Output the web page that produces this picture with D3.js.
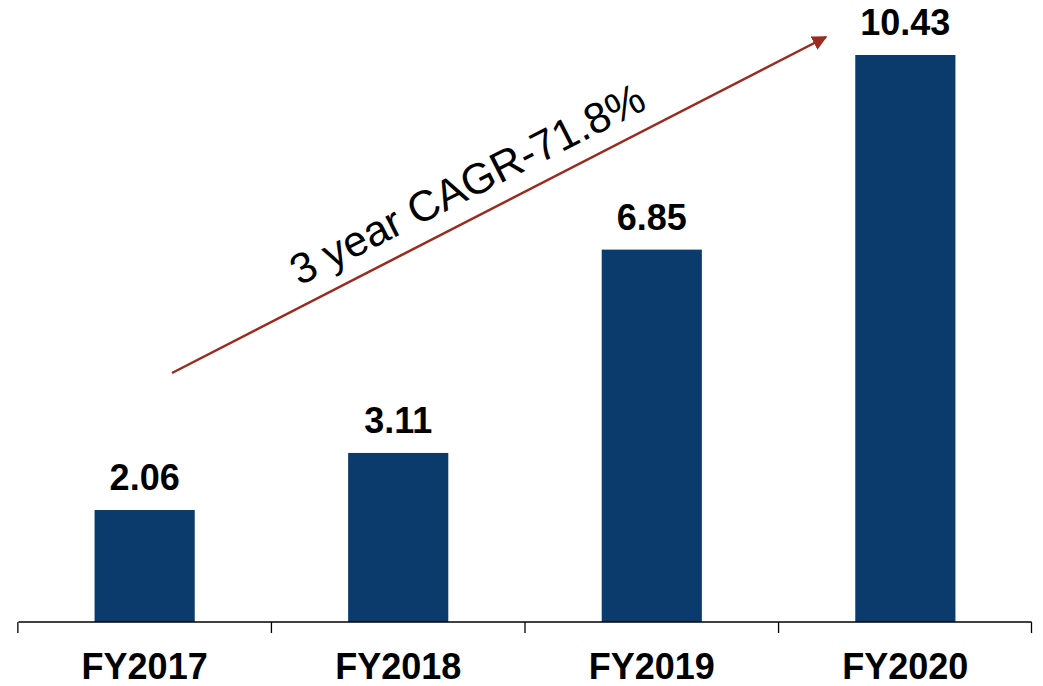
<!DOCTYPE html>
<html>
<head>
<meta charset="utf-8">
<script src="https://cdn.jsdelivr.net/npm/d3@7"></script>
<style>
  body { margin: 0; background: #fff; }
  text { font-family: "Liberation Sans", Arial, sans-serif; }
</style>
</head>
<body>
<script>
let w = 1043;
let h = 686;

// data
let years = ["FY2017", "FY2018", "FY2019", "FY2020"];
let values = [2.06, 3.11, 6.85, 10.43];
let cagrLabel = "3 year CAGR-71.8%";

let x = d3.scaleBand()
          .domain(years)
          .range([18.5, 1031.5])
          .paddingInner(0.605)
          .paddingOuter(0.3);

let y = d3.scaleLinear()
          .domain([0, 10.43])
          .range([622, 55]);

let svg = d3.select("body")
            .append("svg")
            .attr("width", w)
            .attr("height", h);

// bars
svg.selectAll("rect.bar")
   .data(years)
   .enter()
   .append("rect")
   .attr("class", "bar")
   .attr("x", d => x(d))
   .attr("y", (d, i) => y(values[i]))
   .attr("width", x.bandwidth())
   .attr("height", (d, i) => y(0) - y(values[i]))
   .attr("fill", "#0a3b6c");

// value labels
svg.selectAll("text.val")
   .data(years)
   .enter()
   .append("text")
   .attr("class", "val")
   .attr("x", d => x(d) + x.bandwidth() / 2)
   .attr("y", (d, i) => y(values[i]) - 20)
   .attr("text-anchor", "middle")
   .attr("font-size", 36)
   .attr("font-weight", "bold")
   .attr("fill", "#000")
   .text((d, i) => values[i].toFixed(2));

// x axis: ticks at the band edges
let edges = years.map(d => x(d) - x.step() * x.paddingInner() / 2)
                 .concat([x.range()[1]]);
let axis = svg.append("g");
axis.append("line")
    .attr("x1", x.range()[0]).attr("x2", x.range()[1])
    .attr("y1", y(0)).attr("y2", y(0))
    .attr("stroke", "#000").attr("stroke-width", 1.3);
axis.selectAll("line.tick")
    .data(edges)
    .enter()
    .append("line")
    .attr("class", "tick")
    .attr("x1", d => d).attr("x2", d => d)
    .attr("y1", y(0)).attr("y2", y(0) + 11)
    .attr("stroke", "#000").attr("stroke-width", 1.3);
axis.selectAll("text")
    .data(years)
    .enter()
    .append("text")
    .attr("x", d => x(d) + x.bandwidth() / 2)
    .attr("y", 679)
    .attr("text-anchor", "middle")
    .attr("font-size", 36)
    .attr("font-weight", "bold")
    .text(d => d);

// CAGR arrow
svg.append("defs").append("marker")
   .attr("id", "head")
   .attr("viewBox", "0 0 10 10")
   .attr("refX", 9).attr("refY", 5)
   .attr("markerWidth", 6).attr("markerHeight", 6)
   .attr("markerUnits", "strokeWidth")
   .attr("orient", "auto")
   .append("path")
   .attr("d", "M0,0 L10,5 L0,10 z")
   .attr("fill", "#9b2a1f");

svg.append("line")
   .attr("x1", 172).attr("y1", 373)
   .attr("x2", 826).attr("y2", 37)
   .attr("stroke", "#9b2a1f")
   .attr("stroke-width", 2.5)
   .attr("marker-end", "url(#head)");

svg.append("text")
   .attr("transform", "translate(474,197) rotate(-27)")
   .attr("text-anchor", "middle")
   .attr("font-size", 43)
   .attr("fill", "#000")
   .text(cagrLabel);
</script>
</body>
</html>
